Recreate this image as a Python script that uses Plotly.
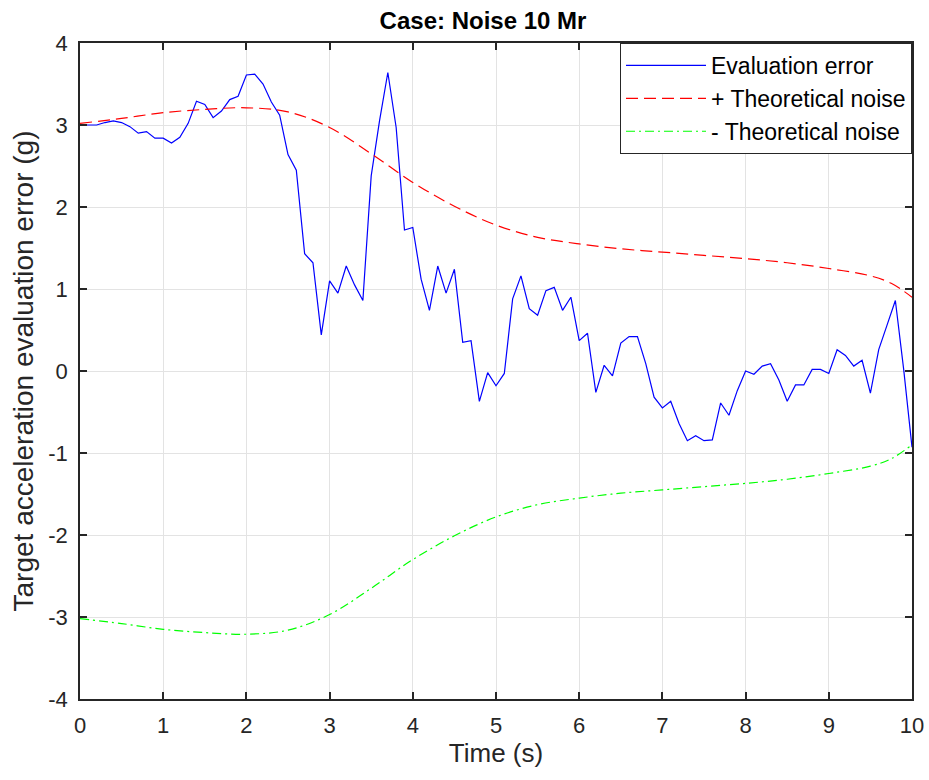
import plotly.graph_objects as go

t_err = [round(i * 0.1, 1) for i in range(101)]
err = [3.00, 3.00, 3.00, 3.03, 3.05, 3.03, 2.98, 2.90, 2.92, 2.84,
       2.84, 2.78, 2.85, 3.02, 3.29, 3.25, 3.09, 3.17, 3.31, 3.35,
       3.61, 3.62, 3.50, 3.28, 3.12, 2.64, 2.45, 1.43, 1.32, 0.44,
       1.10, 0.95, 1.28, 1.05, 0.86, 2.38, 3.05, 3.64, 2.97, 1.72,
       1.75, 1.12, 0.74, 1.28, 0.95, 1.24, 0.35, 0.37, -0.37, -0.02,
       -0.18, -0.03, 0.88, 1.16, 0.76, 0.68, 0.98, 1.02, 0.74, 0.90,
       0.37, 0.46, -0.26, 0.07, -0.06, 0.34, 0.42, 0.42, 0.09, -0.32,
       -0.45, -0.37, -0.64, -0.85, -0.79, -0.85, -0.84, -0.39, -0.54, -0.24,
       0.00, -0.04, 0.06, 0.09, -0.11, -0.37, -0.17, -0.17, 0.02, 0.02,
       -0.03, 0.26, 0.19, 0.06, 0.13, -0.27, 0.26, 0.56, 0.86, 0.02,
       -0.93]

t_noise = [0, 0.5, 1, 1.5, 2, 2.5, 3, 3.5, 4, 4.5, 5, 5.5, 6, 6.5, 7,
           7.5, 8, 8.5, 9, 9.5, 9.75, 10]
noise_pos = [3.02, 3.08, 3.15, 3.19, 3.21, 3.16, 2.97, 2.65, 2.30, 2.01,
             1.78, 1.63, 1.55, 1.49, 1.45, 1.41, 1.37, 1.32, 1.25, 1.16,
             1.07, 0.90]
noise_neg = [-v for v in noise_pos]

x_ticks = list(range(0, 11))
y_ticks = [-4, -3, -2, -1, 0, 1, 2, 3, 4]
y_tick_text = ["-4", "-3", "-2", "-1", "0", "1", "2", "3", "4"]

FONT = "Liberation Sans, Arial, sans-serif"

fig = go.Figure()
fig.add_trace(go.Scatter(x=t_err, y=err, mode="lines", name="Evaluation error",
                         line=dict(color="#0000ff", width=1.2)))
fig.add_trace(go.Scatter(x=t_noise, y=noise_pos, mode="lines", name="+ Theoretical noise",
                         line=dict(color="#ff0000", width=1.2, dash="12px,6px", shape="spline")))
fig.add_trace(go.Scatter(x=t_noise, y=noise_neg, mode="lines", name="- Theoretical noise",
                         line=dict(color="#00ff00", width=1.2, dash="9px,4px,2px,4px", shape="spline")))

axis_common = dict(
    showgrid=True, gridcolor="#e3e3e3", gridwidth=1,
    showline=True, linecolor="#262626", linewidth=1.5, mirror="ticks",
    ticks="inside", ticklen=7, tickcolor="#262626", tickwidth=1.5,
    zeroline=False, automargin=False,
    tickfont=dict(family=FONT, size=22, color="#262626"),
)

fig.update_layout(
    width=929, height=780,
    margin=dict(l=80, r=17, t=43, b=81),
    paper_bgcolor="white", plot_bgcolor="white",
    title=dict(text="<b>Case: Noise 10 Mr</b>", x=483 / 929, xanchor="center",
               y=1 - 21 / 780, yanchor="middle",
               font=dict(family=FONT, size=24, color="black")),
    xaxis=dict(range=[0, 10], tickvals=x_ticks, ticklabelstandoff=6,
               title=dict(text="Time (s)", font=dict(family=FONT, size=26, color="#262626"), standoff=6),
               **axis_common),
    yaxis=dict(range=[-4, 4], tickvals=y_ticks, ticktext=y_tick_text, ticklabelstandoff=6,
               title=dict(text="Target acceleration evaluation error (g)",
                          font=dict(family=FONT, size=28, color="#262626"), standoff=6),
               **axis_common),
    legend=dict(x=1, y=1, xanchor="right", yanchor="top",
                bgcolor="white", bordercolor="#262626", borderwidth=1,
                font=dict(family=FONT, size=23, color="black"),
                tracegroupgap=0, itemwidth=80),
    showlegend=True,
)

fig.write_html("out.html")
